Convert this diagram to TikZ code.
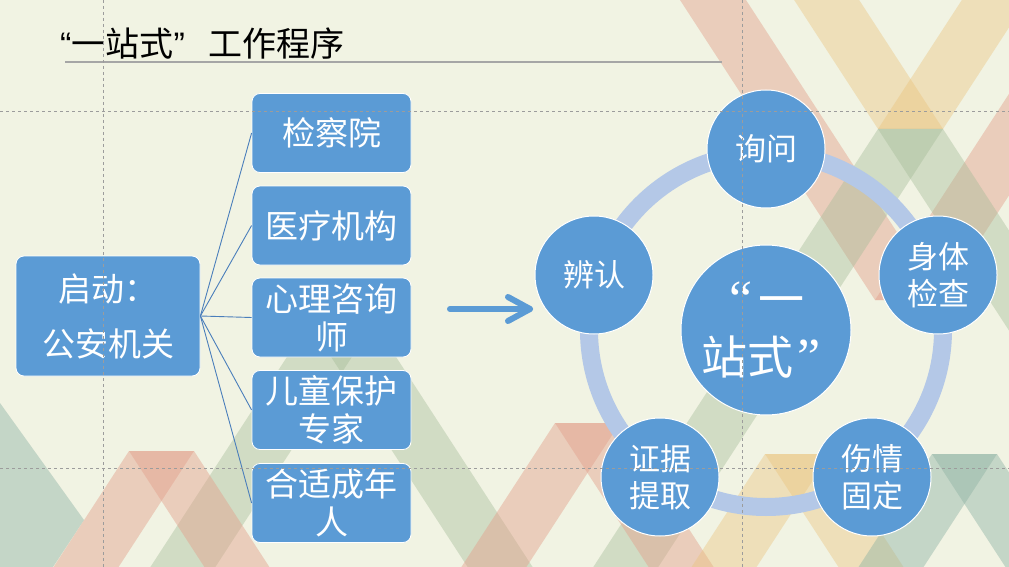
\documentclass[tikz,border=0pt]{standalone}
\usepackage{fontspec}
\newfontfamily\cjk{Noto Sans CJK SC}
\newfontfamily\serifq{Liberation Serif}
\newfontfamily\sansq{Liberation Sans}
\definecolor{bgc}{HTML}{F1F3E3}
\definecolor{boxblue}{HTML}{5B9BD5}
\definecolor{ringc}{HTML}{B4C8E7}
\definecolor{linec}{HTML}{4A7EBB}
\definecolor{guide}{HTML}{9C9C9C}
\definecolor{bred}{HTML}{E3A08C}
\definecolor{borange}{HTML}{EBC27A}
\definecolor{bgreen}{HTML}{A3BA96}
\definecolor{bteal}{HTML}{8FB3A5}
\newcommand\bgband[6]{\fill[#1] (#2,#3) -- ++(#4,0) -- ++({#6*(#5-#3)},{#5-#3}) -- ++(-#4,0) -- cycle;}
\begin{document}
\begin{tikzpicture}[x=1pt,y=-1pt,
  redband/.style={fill=bred,fill opacity=0.45},
  orband/.style={fill=borange,fill opacity=0.4},
  grband/.style={fill=bgreen,fill opacity=0.4},
  tlband/.style={fill=bteal,fill opacity=0.45},
  pbox/.style={rectangle, rounded corners=8pt, fill=boxblue, draw=white, line width=0.8pt,
    text=white, minimum width=159pt, minimum height=79pt, align=center, inner sep=0pt,
    font={\cjk\fontsize{33}{38}\selectfont}},
  startbox/.style={pbox, minimum width=184pt, minimum height=120pt, font={\cjk\fontsize{33}{55}\selectfont}},
  stage/.style={circle, fill=boxblue, draw=white, line width=1pt, text=white, minimum size=118pt,
    align=center, inner sep=0pt, font={\cjk\fontsize{31}{37}\selectfont}},
  hub/.style={stage, minimum size=170pt, font={\cjk\fontsize{46}{58}\selectfont}},
  conn/.style={draw=linec, line width=0.9pt},
  arrowst/.style={draw=boxblue, line width=6pt, line cap=round, line join=round},
  guideline/.style={draw=guide, line width=0.8pt, dash pattern=on 3pt off 3pt},
]
\useasboundingbox (0,0) rectangle (1009,567);
\fill[bgc] (0,0) rectangle (1009,567);
% decorative bands
\bgband{redband}{875}{300}{66}{0}{0.65}
\bgband{redband}{875}{300}{66}{0}{-0.65}
\bgband{orband}{878}{129}{65}{0}{0.65}
\bgband{orband}{878}{129}{65}{0}{-0.65}
\bgband{grband}{878}{129}{65}{567}{-0.65}
\bgband{grband}{878}{129}{65}{567}{0.65}
\bgband{grband}{309}{323}{65}{567}{-0.65}
\bgband{grband}{309}{323}{65}{567}{0.65}
\fill[tlband] (-80,403) -- (0,403) -- (84,520) -- (53,567) -- (-30,567) -- cycle;
\bgband{redband}{129}{451}{65}{567}{-0.65}
\bgband{redband}{129}{451}{65}{567}{0.65}
\bgband{redband}{555}{423}{65}{567}{-0.65}
\bgband{redband}{555}{423}{65}{567}{0.65}
\bgband{orband}{765}{454}{65}{567}{-0.65}
\bgband{orband}{765}{454}{65}{567}{0.65}
\bgband{tlband}{932}{454}{65}{567}{-0.65}
\bgband{tlband}{932}{454}{65}{567}{0.65}
% title
\node[anchor=base west, inner sep=0pt, font={\cjk\fontsize{34}{38}\selectfont}] (title) at (60,57) {{\sansq “}一站式{\sansq ”}\hspace{24pt}工作程序};
\coordinate (ul1) at (65,62);
\coordinate (ul2) at (722,62);
\draw[draw=guide!90, line width=1.1pt] (ul1) -- (ul2);
% ring and stages
\coordinate (hubc) at (766,330);
\draw[draw=ringc, line width=18pt] (hubc) circle[radius=177pt];
\node[hub] (hub) at (hubc) {\hspace*{2pt}{\serifq\fontsize{52}{58}\selectfont “}\hspace{6pt}一\\站式{\serifq\fontsize{52}{58}\selectfont\hspace{4pt}”}\hspace*{10pt}};
\node[stage] (s1) at (766,149) {询问};
\node[stage] (s2) at (938,275) {身体\\检查};
\node[stage] (s3) at (872,477) {伤情\\固定};
\node[stage] (s4) at (660,477) {证据\\提取};
\node[stage] (s5) at (594,275) {辨认};
% left side
\node[startbox] (start) at (108,316) {启动：\\公安机关};
\node[pbox] (b1) at (331.5,133) {检察院};
\node[pbox] (b2) at (331.5,225.5) {医疗机构};
\node[pbox] (b3) at (331.5,317.5) {心理咨询\\师};
\node[pbox] (b4) at (331.5,410) {儿童保护\\专家};
\node[pbox] (b5) at (331.5,503) {合适成年\\人};
\foreach \b in {b1,b2,b3,b4,b5} \draw[conn] (start.east) -- (\b.west);
% arrow
\coordinate (a0) at (450,309);
\coordinate (a1) at (530,309);
\coordinate (h1) at (508,297);
\coordinate (h2) at (508,321);
\draw[arrowst] (a0) -- (a1);
\draw[arrowst] (h1) -- (a1) -- (h2);
% guides
\draw[guideline] (103,0) -- (103,567);
\draw[guideline] (742,0) -- (742,567);
\draw[guideline] (0,111) -- (1009,111);
\draw[guideline] (0,468) -- (1009,468);
\end{tikzpicture}
\end{document}
